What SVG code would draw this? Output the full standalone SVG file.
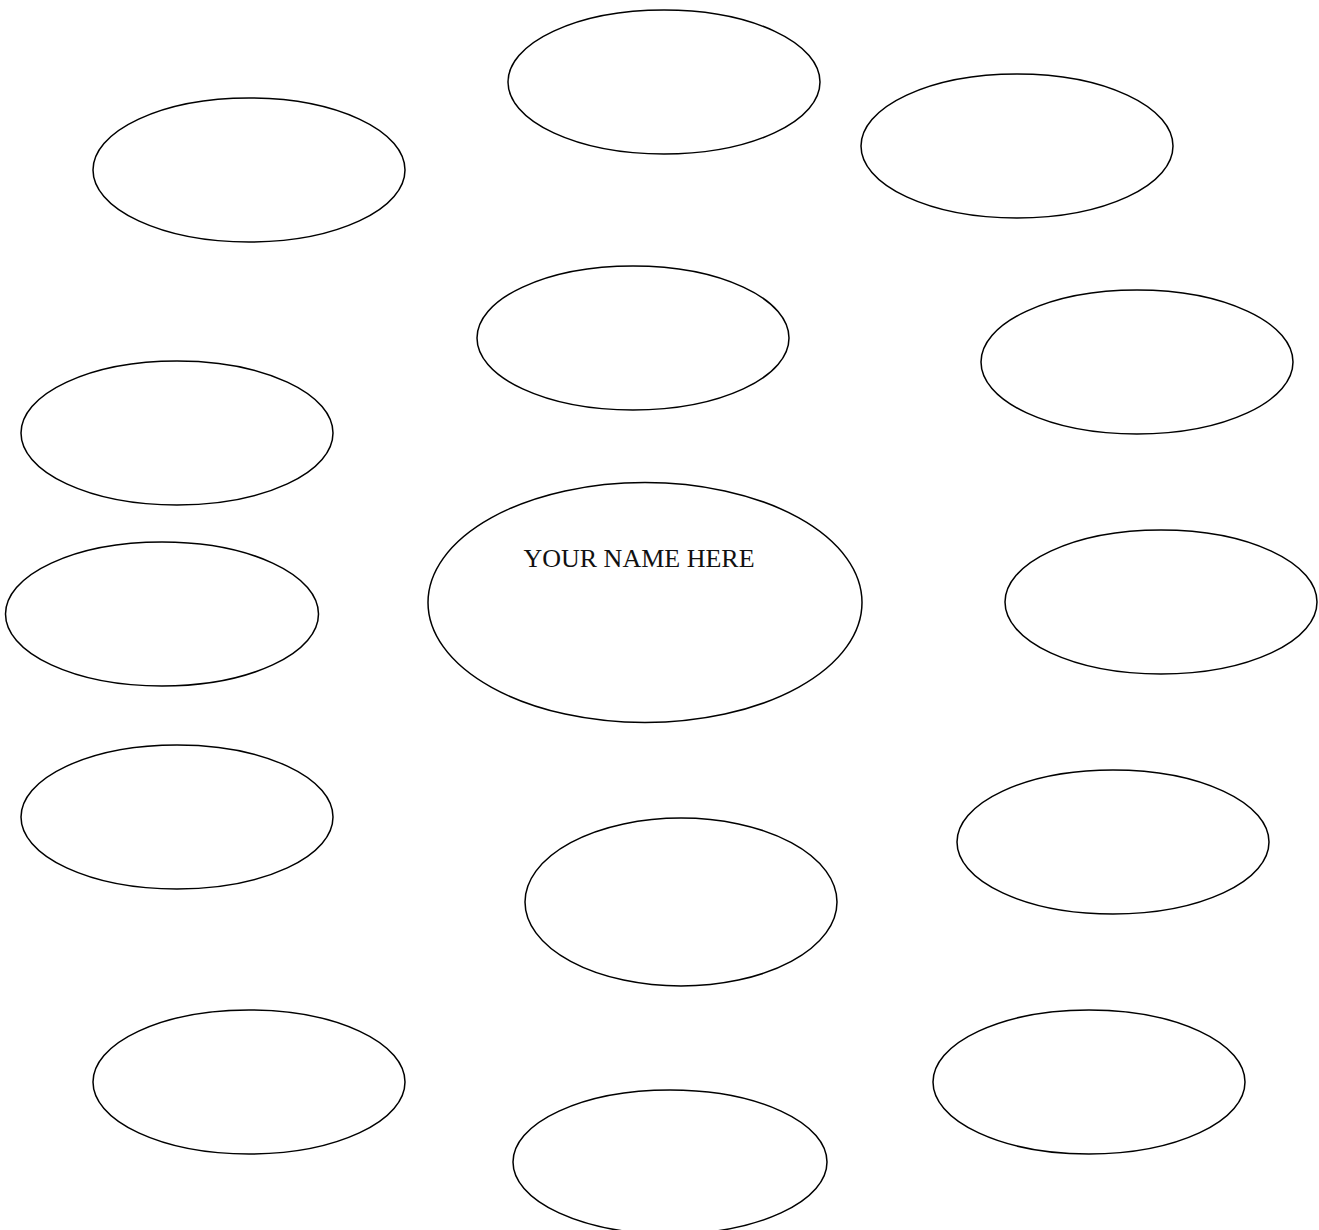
<svg xmlns="http://www.w3.org/2000/svg" width="1319" height="1230" viewBox="0 0 1319 1230">
<style>
.n{fill:#fff;stroke:#000;stroke-width:1.5}
.t{font-family:"Liberation Serif","Times New Roman",serif;font-size:26px;fill:#111}
</style>
<rect width="1319" height="1230" fill="#fff"/>
<g id="connectors"></g>
<g id="n1"><ellipse class="n" cx="249" cy="170" rx="156" ry="72"/></g>
<g id="n2"><ellipse class="n" cx="664" cy="82" rx="156" ry="72"/></g>
<g id="n3"><ellipse class="n" cx="1017" cy="146" rx="156" ry="72"/></g>
<g id="n4"><ellipse class="n" cx="633" cy="338" rx="156" ry="72"/></g>
<g id="n5"><ellipse class="n" cx="1137" cy="362" rx="156" ry="72"/></g>
<g id="n6"><ellipse class="n" cx="177" cy="433" rx="156" ry="72"/></g>
<g id="center"><ellipse class="n" cx="645" cy="602.5" rx="217" ry="120"/><text class="t" x="639" y="567" text-anchor="middle">YOUR NAME HERE</text></g>
<g id="n8"><ellipse class="n" cx="162" cy="614" rx="156.5" ry="72"/></g>
<g id="n9"><ellipse class="n" cx="1161" cy="602" rx="156" ry="72"/></g>
<g id="n10"><ellipse class="n" cx="177" cy="817" rx="156" ry="72"/></g>
<g id="n11"><ellipse class="n" cx="1113" cy="842" rx="156" ry="72"/></g>
<g id="n12"><ellipse class="n" cx="681" cy="902" rx="156" ry="84"/></g>
<g id="n13"><ellipse class="n" cx="249" cy="1082" rx="156" ry="72"/></g>
<g id="n14"><ellipse class="n" cx="1089" cy="1082" rx="156" ry="72"/></g>
<g id="n15"><ellipse class="n" cx="670" cy="1162" rx="157" ry="72"/></g>
</svg>
